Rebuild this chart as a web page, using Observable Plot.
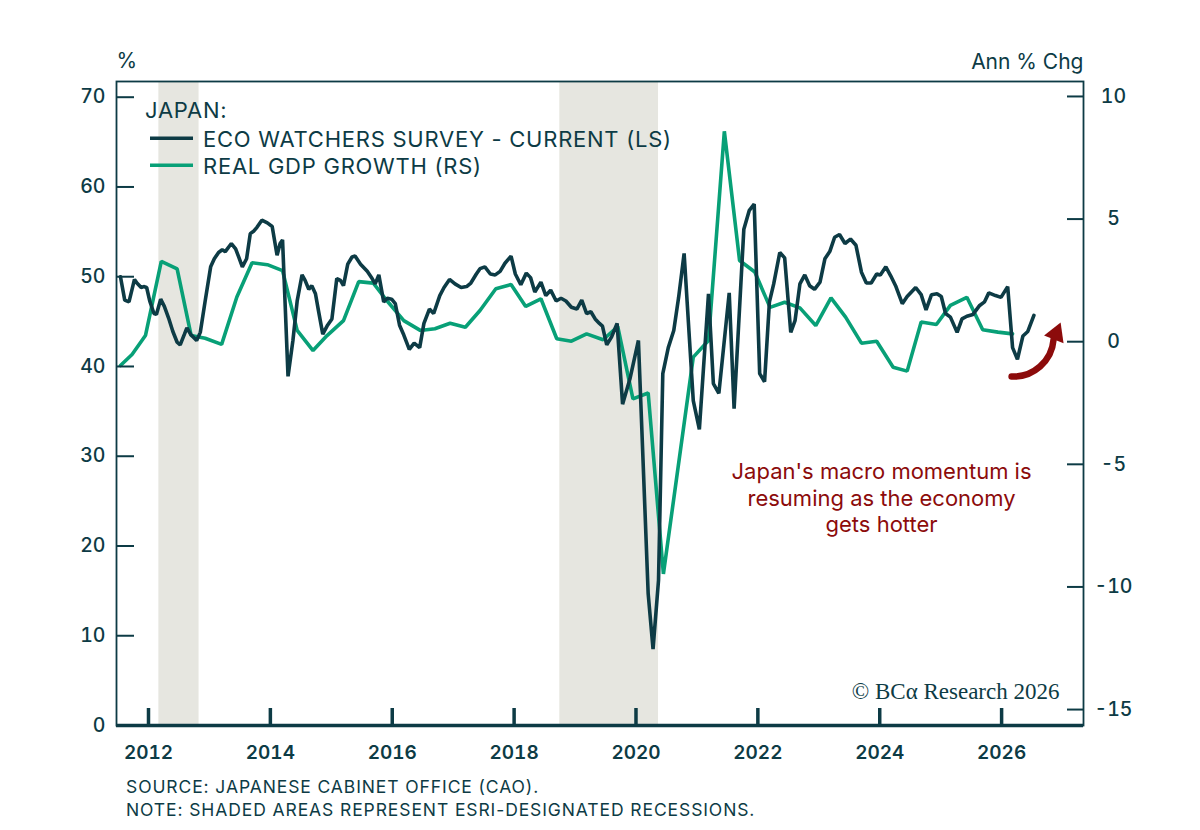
<!DOCTYPE html>
<html>
<head>
<meta charset="utf-8">
<script src="https://cdn.jsdelivr.net/npm/d3@7"></script>
<script src="https://cdn.jsdelivr.net/npm/@observablehq/plot@0.6"></script>
<style>
  body { margin: 0; background: #fff; }
  #wrap { position: relative; width: 1200px; height: 830px; font-family: Inter, sans-serif; color: #0d3b45; overflow: hidden; }
  #chart { position: absolute; left: 0; top: 0; }
  #legend { position: absolute; left: 0; top: 0; pointer-events: none; }
  #caption { position: absolute; left: 126px; top: 775px; font-size: 17.5px; letter-spacing: 0.9px; line-height: 23px; color: #0d3b45; white-space: nowrap; }
</style>
</head>
<body>
<div id="wrap">
  <div id="chart"></div>
  <svg id="legend" width="760" height="190"></svg>
  <div id="caption">SOURCE: JAPANESE CABINET OFFICE (CAO).<br>NOTE: SHADED AREAS REPRESENT ESRI-DESIGNATED RECESSIONS.</div>
</div>
<script>
// ---------------- data ----------------
const ewTime = [
  2011.54, 2011.61, 2011.68, 2011.77, 2011.81, 2011.88, 2011.92, 2011.97,
  2012.02, 2012.09, 2012.13, 2012.20, 2012.26, 2012.33, 2012.40, 2012.47, 2012.52, 2012.59, 2012.63, 2012.69, 2012.79, 2012.85, 2012.93,
  2013.02, 2013.08, 2013.15, 2013.21, 2013.26, 2013.36, 2013.43, 2013.48, 2013.54, 2013.61, 2013.67, 2013.73, 2013.78, 2013.86, 2013.95,
  2014.03, 2014.11, 2014.16, 2014.20, 2014.29, 2014.37, 2014.44, 2014.52, 2014.57, 2014.63, 2014.68, 2014.74, 2014.79, 2014.86, 2014.93,
  2015.01, 2015.09, 2015.15, 2015.20, 2015.27, 2015.34, 2015.39, 2015.48, 2015.59, 2015.67, 2015.72, 2015.78, 2015.86, 2015.92, 2015.99,
  2016.05, 2016.12, 2016.19, 2016.28, 2016.36, 2016.45, 2016.52, 2016.61, 2016.68, 2016.78, 2016.85, 2016.94,
  2017.03, 2017.13, 2017.22, 2017.29, 2017.38, 2017.44, 2017.52, 2017.61, 2017.69, 2017.77, 2017.85, 2017.95,
  2018.02, 2018.11, 2018.20, 2018.27, 2018.34, 2018.44, 2018.52, 2018.60, 2018.69, 2018.77, 2018.85, 2018.94,
  2019.03, 2019.11, 2019.19, 2019.26, 2019.33, 2019.40, 2019.45, 2019.52, 2019.60, 2019.69, 2019.78, 2019.90,
  2020.04, 2020.20, 2020.28, 2020.37, 2020.44, 2020.53, 2020.62, 2020.70, 2020.79, 2020.94,
  2021.04, 2021.19, 2021.27, 2021.36, 2021.53, 2021.61, 2021.77, 2021.86, 2021.94,
  2022.03, 2022.11, 2022.19, 2022.26, 2022.36, 2022.44, 2022.54, 2022.61, 2022.69, 2022.77, 2022.85, 2022.93,
  2023.02, 2023.10, 2023.18, 2023.26, 2023.34, 2023.43, 2023.52, 2023.61, 2023.70, 2023.78, 2023.86, 2023.95,
  2024.01, 2024.10, 2024.18, 2024.26, 2024.37, 2024.45, 2024.59, 2024.68, 2024.76, 2024.85, 2024.94,
  2025.01, 2025.08, 2025.16, 2025.27, 2025.35, 2025.43, 2025.53, 2025.64, 2025.72, 2025.79, 2025.90, 2025.99,
  2026.10, 2026.18, 2026.26, 2026.35, 2026.43, 2026.53
];
const ewValue = [
  50.0, 47.4, 47.2, 49.7, 49.3, 48.8, 48.9, 48.8,
  47.3, 45.9, 45.8, 47.5, 46.7, 45.4, 43.9, 42.7, 42.4, 43.6, 44.3, 43.6, 42.9, 43.8, 47.3,
  51.1, 52.0, 52.7, 53.0, 52.8, 53.7, 53.1, 52.2, 51.1, 52.0, 54.8, 55.1, 55.5, 56.3, 56.0,
  55.6, 52.4, 53.7, 54.1, 38.9, 42.9, 47.3, 50.2, 49.6, 48.6, 49.0, 48.1, 46.2, 43.6, 44.5,
  45.3, 49.8, 49.6, 49.0, 51.4, 52.2, 52.3, 51.4, 50.6, 49.8, 49.2, 50.2, 47.2, 47.6, 47.5,
  47.0, 44.6, 43.5, 41.9, 42.6, 42.1, 44.8, 46.4, 45.9, 47.9, 48.8, 49.7,
  49.2, 48.8, 48.9, 49.3, 50.3, 50.9, 51.1, 50.3, 50.2, 50.6, 51.5, 52.3,
  50.3, 49.1, 50.4, 49.9, 48.3, 49.4, 47.9, 48.5, 47.3, 47.6, 47.3, 46.6,
  46.4, 47.4, 45.9, 46.1, 45.3, 44.8, 44.5, 42.4, 43.3, 44.8, 35.8, 38.6,
  42.9, 14.7, 8.5, 16.2, 39.2, 42.1, 44.0, 47.7, 52.6, 36.2,
  33.0, 48.1, 38.1, 37.0, 48.2, 35.3, 55.3, 57.4, 58.1,
  39.2, 38.3, 47.2, 49.2, 52.7, 52.1, 43.8, 45.1, 49.2, 50.2, 49.0, 48.6,
  49.4, 52.0, 52.8, 54.4, 54.7, 53.7, 54.2, 53.5, 50.5, 49.3, 49.3, 50.3,
  50.2, 51.1, 50.1, 49.0, 47.0, 47.8, 48.8, 48.0, 46.3, 48.0, 48.1,
  47.8, 45.9, 45.5, 43.8, 45.3, 45.6, 45.8, 46.8, 47.2, 48.2, 47.9, 47.7,
  48.9, 42.1, 40.8, 43.4, 43.9, 45.7
];
const gdpTime = [
  2011.54, 2011.73, 2011.95, 2012.21, 2012.47, 2012.70, 2012.93, 2013.20, 2013.45, 2013.70, 2013.95,
  2014.20, 2014.44, 2014.70, 2014.93, 2015.20, 2015.45, 2015.69, 2015.91, 2016.19, 2016.46, 2016.70, 2016.95,
  2017.20, 2017.44, 2017.70, 2017.95, 2018.19, 2018.44, 2018.70, 2018.94, 2019.19, 2019.46, 2019.70, 2019.95,
  2020.20, 2020.45, 2020.94, 2021.19, 2021.45, 2021.70, 2021.95, 2022.20, 2022.44, 2022.69, 2022.95,
  2023.20, 2023.44, 2023.70, 2023.95, 2024.22, 2024.45, 2024.68, 2024.93, 2025.16, 2025.43, 2025.69, 2025.94, 2026.18
];
const gdpValue = [
  -0.97, -0.52, 0.25, 3.28, 2.97, 0.25, 0.14, -0.11, 1.82, 3.22, 3.14,
  2.90, 0.46, -0.36, 0.25, 0.86, 2.45, 2.39, 1.68, 0.86, 0.46, 0.53, 0.75,
  0.59, 1.27, 2.16, 2.33, 1.44, 1.75, 0.12, 0.02, 0.32, 0.08, 0.62, -2.33,
  -2.09, -9.47, -0.63, 0.05, 8.58, 3.31, 2.84, 1.40, 1.61, 1.38, 0.66,
  1.79, 1.00, -0.06, 0.02, -1.04, -1.20, 0.80, 0.70, 1.48, 1.81, 0.49, 0.39, 0.32
];
const recessionStart = [2012.17, 2018.75];
const recessionEnd = [2012.83, 2020.37];
const xTicks = [2012, 2014, 2016, 2018, 2020, 2022, 2024, 2026];
const leftTicks = [0, 10, 20, 30, 40, 50, 60, 70];
const rightTicks = [-15, -10, -5, 0, 5, 10];
const xDomain = [2011.475, 2027.344];
const leftDomain = [0, 71.75];
const rightDomain = [-15.65, 10.61];
const noteLines = ["Japan's macro momentum is", "resuming as the economy", "gets hotter"];
const notePos = [2024.03, 29.5];
const arrowStart = [2026.164, 38.88];
const arrowEnd = [2026.853, 43.0];
const arrowTip = [2026.894, 43.65];

// ---------------- helpers ----------------
const dark = "#0d3b45";
const green = "#08a077";
const red = "#8c0b0b";
const toLeft = r => (r - rightDomain[0]) / (rightDomain[1] - rightDomain[0]) * (leftDomain[1] - leftDomain[0]) + leftDomain[0];
const fromLeft = l => (l - leftDomain[0]) / (leftDomain[1] - leftDomain[0]) * (rightDomain[1] - rightDomain[0]) + rightDomain[0];

const ew = ewTime.map((t, i) => ({t, v: ewValue[i]}));
const gdp = gdpTime.map((t, i) => ({t, v: toLeft(gdpValue[i])}));
const recessions = recessionStart.map((s, i) => ({s, e: recessionEnd[i]}));

const chart = Plot.plot({
  width: 1200,
  height: 770,
  marginLeft: 116,
  marginRight: 117,
  marginTop: 81,
  marginBottom: 45,
  x: {domain: xDomain},
  y: {domain: leftDomain},
  style: {fontFamily: "Inter, sans-serif", color: dark, background: "transparent", overflow: "visible"},
  marks: [
    Plot.rect(recessions, {x1: "s", x2: "e", fill: "#e6e6e0"}),
    Plot.line(gdp, {x: "t", y: "v", stroke: green, strokeWidth: 3.6, strokeLinejoin: "miter"}),
    Plot.line(ew, {x: "t", y: "v", stroke: dark, strokeWidth: 3.6, strokeLinejoin: "miter"}),
    Plot.frame({stroke: dark, strokeWidth: 1.8}),
    Plot.ruleY([0], {stroke: dark, strokeWidth: 3.5}),
    // x ticks (inward) and labels
    Plot.axisX(xTicks, {tickSize: -17, strokeWidth: 3.5, stroke: dark, tickFormat: () => "", label: null}),
    Plot.axisX(xTicks, {tickSize: 0, tickPadding: 20, tickFormat: d => String(d), fontSize: 19, fontWeight: 600, fill: dark, label: null}),
    // left axis
    Plot.axisY(leftTicks, {anchor: "left", tickSize: -18, strokeWidth: 2, stroke: dark, tickFormat: () => "", label: null}),
    Plot.axisY(leftTicks, {anchor: "left", tickSize: 0, tickPadding: 11, fontSize: 19.5, fontWeight: 500, fill: dark, label: null}),
    // right axis
    Plot.axisY(rightTicks.map(toLeft), {anchor: "right", tickSize: -17, strokeWidth: 2, stroke: dark, tickFormat: () => "", label: null}),
    Plot.axisY(rightTicks.map(toLeft), {anchor: "right", tickSize: 0, tickPadding: 30, textAnchor: "middle", fontSize: 19.5, fontWeight: 500, fill: dark, label: null,
      tickFormat: d => String(Math.round(fromLeft(d)))}),
    // units
    Plot.text(["%"], {text: d => d, frameAnchor: "top-left", textAnchor: "start", lineAnchor: "bottom", dx: 0, dy: -14, fontSize: 21, fill: dark}),
    Plot.text(["Ann % Chg"], {text: d => d, frameAnchor: "top-right", textAnchor: "end", lineAnchor: "bottom", dx: 0, dy: -13, fontSize: 21, letterSpacing: "0.6px", fill: dark}),
    // annotation
    Plot.text([noteLines.join("\n")], {x: () => notePos[0], y: () => notePos[1], text: d => d, textAnchor: "middle", lineAnchor: "top", lineHeight: 1.2, fontSize: 22, letterSpacing: "0.5px", fill: red}),
    Plot.arrow([0], {x1: () => arrowStart[0], y1: () => arrowStart[1], x2: () => arrowEnd[0], y2: () => arrowEnd[1], bend: -44, headLength: 0, stroke: red, strokeWidth: 6.5}),
    Plot.dot([0], {x: () => arrowTip[0], y: () => arrowTip[1], symbol: "triangle", r: 7.8, rotate: 22, fill: red, stroke: "none"}),
    // copyright
    Plot.text(["© BCα Research 2026"], {text: d => d, frameAnchor: "bottom-right", textAnchor: "end", lineAnchor: "bottom", dx: -24, dy: -27, fontSize: 23, fontFamily: "Liberation Serif, serif", fill: dark})
  ]
});
document.getElementById("chart").appendChild(chart);

// legend
const lg = d3.select("#legend");
const legendItems = [
  {label: "ECO WATCHERS SURVEY - CURRENT (LS)", color: dark},
  {label: "REAL GDP GROWTH (RS)", color: green}
];
const legendFont = t => t.attr("font-size", 22).attr("font-family", "Inter, sans-serif").attr("letter-spacing", "0.75px").attr("fill", dark);
lg.append("text").attr("x", 145).attr("y", 118).call(legendFont).text("JAPAN:");
legendItems.forEach((it, i) => {
  const base = 146.5 + i * 27;
  lg.append("line").attr("x1", 150).attr("x2", 193).attr("y1", base - 8.3).attr("y2", base - 8.3)
    .attr("stroke", it.color).attr("stroke-width", 3.5);
  lg.append("text").attr("x", 203).attr("y", base).call(legendFont).text(it.label);
});
</script>
</body>
</html>
